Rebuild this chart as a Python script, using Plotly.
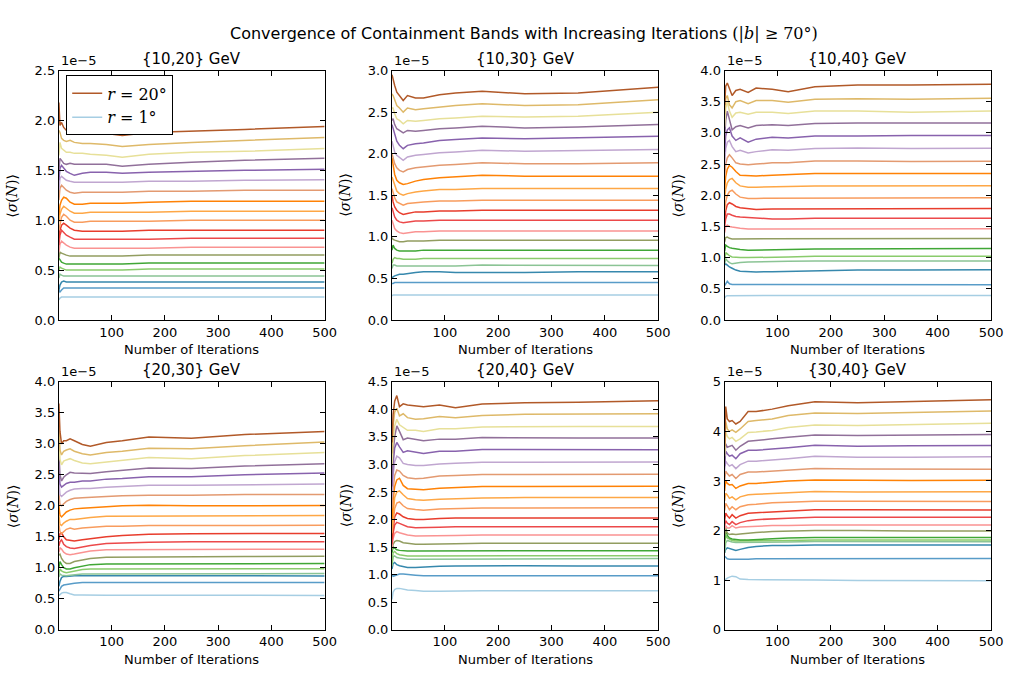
import plotly.graph_objects as go

# ---------------- data (values in units of 1e-5) ----------------
iterations = [1, 3, 6, 10, 15, 22, 30, 45, 60, 90, 120, 170, 250, 350, 500]
radii = list(range(20, 0, -1))  # rows below are ordered r=20 ... r=1

sig_10_20 = [
    [2.18, 1.95, 1.98, 1.93, 1.90, 1.92, 1.90, 1.89, 1.88, 1.87, 1.85, 1.88, 1.89, 1.91, 1.94],
    [1.90, 1.88, 1.82, 1.80, 1.79, 1.80, 1.78, 1.77, 1.77, 1.76, 1.74, 1.76, 1.78, 1.80, 1.83],
    [1.65, 1.78, 1.72, 1.70, 1.68, 1.68, 1.67, 1.67, 1.66, 1.65, 1.63, 1.66, 1.68, 1.69, 1.72],
    [1.50, 1.62, 1.60, 1.57, 1.56, 1.57, 1.56, 1.56, 1.56, 1.56, 1.54, 1.56, 1.58, 1.60, 1.62],
    [1.40, 1.52, 1.55, 1.52, 1.49, 1.47, 1.45, 1.47, 1.48, 1.48, 1.47, 1.48, 1.49, 1.50, 1.51],
    [1.30, 1.42, 1.44, 1.42, 1.40, 1.39, 1.38, 1.38, 1.38, 1.38, 1.38, 1.39, 1.39, 1.40, 1.405],
    [1.20, 1.32, 1.35, 1.33, 1.30, 1.28, 1.27, 1.28, 1.28, 1.28, 1.28, 1.29, 1.29, 1.30, 1.30],
    [1.05, 1.15, 1.20, 1.23, 1.22, 1.18, 1.16, 1.16, 1.17, 1.17, 1.17, 1.18, 1.19, 1.19, 1.19],
    [0.98, 1.06, 1.11, 1.14, 1.12, 1.09, 1.07, 1.07, 1.08, 1.08, 1.08, 1.08, 1.09, 1.09, 1.09],
    [0.90, 0.97, 1.03, 1.06, 1.04, 1.00, 0.98, 0.98, 0.99, 0.99, 0.99, 0.99, 1.00, 1.00, 1.00],
    [0.82, 0.90, 0.95, 0.97, 0.95, 0.92, 0.90, 0.89, 0.89, 0.89, 0.89, 0.90, 0.90, 0.90, 0.90],
    [0.75, 0.85, 0.90, 0.88, 0.85, 0.83, 0.81, 0.81, 0.81, 0.81, 0.81, 0.81, 0.82, 0.82, 0.82],
    [0.68, 0.76, 0.79, 0.77, 0.75, 0.73, 0.72, 0.72, 0.72, 0.72, 0.72, 0.72, 0.73, 0.73, 0.73],
    [0.62, 0.68, 0.67, 0.66, 0.65, 0.64, 0.64, 0.64, 0.64, 0.64, 0.64, 0.65, 0.65, 0.65, 0.65],
    [0.62, 0.60, 0.58, 0.57, 0.56, 0.56, 0.56, 0.56, 0.56, 0.56, 0.56, 0.57, 0.57, 0.57, 0.57],
    [0.50, 0.53, 0.52, 0.51, 0.50, 0.50, 0.50, 0.50, 0.50, 0.50, 0.50, 0.51, 0.51, 0.51, 0.51],
    [0.42, 0.46, 0.45, 0.44, 0.44, 0.44, 0.44, 0.44, 0.44, 0.44, 0.44, 0.44, 0.44, 0.44, 0.44],
    [0.30, 0.35, 0.38, 0.39, 0.38, 0.38, 0.38, 0.38, 0.38, 0.38, 0.38, 0.38, 0.38, 0.38, 0.38],
    [0.30, 0.28, 0.30, 0.32, 0.32, 0.32, 0.32, 0.32, 0.32, 0.32, 0.32, 0.32, 0.32, 0.32, 0.32],
    [0.20, 0.22, 0.23, 0.23, 0.23, 0.23, 0.23, 0.23, 0.23, 0.23, 0.23, 0.23, 0.23, 0.23, 0.23],
]

sig_10_30 = [
    [2.95, 2.88, 2.82, 2.74, 2.70, 2.64, 2.70, 2.67, 2.67, 2.71, 2.73, 2.75, 2.72, 2.73, 2.80],
    [2.72, 2.70, 2.65, 2.58, 2.55, 2.50, 2.55, 2.53, 2.54, 2.56, 2.58, 2.60, 2.58, 2.59, 2.65],
    [2.55, 2.55, 2.48, 2.42, 2.40, 2.36, 2.40, 2.39, 2.40, 2.42, 2.43, 2.45, 2.44, 2.45, 2.50],
    [2.40, 2.42, 2.35, 2.30, 2.28, 2.25, 2.28, 2.27, 2.28, 2.30, 2.31, 2.33, 2.31, 2.32, 2.35],
    [2.35, 2.30, 2.22, 2.15, 2.10, 2.06, 2.10, 2.12, 2.13, 2.16, 2.17, 2.19, 2.18, 2.19, 2.21],
    [2.15, 2.10, 2.02, 1.98, 1.95, 1.92, 1.96, 1.98, 1.99, 2.01, 2.02, 2.04, 2.03, 2.04, 2.05],
    [2.00, 1.95, 1.88, 1.83, 1.80, 1.78, 1.81, 1.83, 1.84, 1.86, 1.87, 1.89, 1.88, 1.88, 1.89],
    [1.95, 1.85, 1.75, 1.68, 1.65, 1.63, 1.64, 1.67, 1.69, 1.71, 1.72, 1.74, 1.73, 1.73, 1.73],
    [1.72, 1.68, 1.62, 1.55, 1.52, 1.50, 1.52, 1.54, 1.55, 1.57, 1.57, 1.58, 1.58, 1.58, 1.58],
    [1.58, 1.52, 1.47, 1.42, 1.40, 1.38, 1.40, 1.41, 1.42, 1.43, 1.43, 1.44, 1.44, 1.44, 1.44],
    [1.50, 1.42, 1.36, 1.32, 1.29, 1.27, 1.28, 1.30, 1.30, 1.31, 1.31, 1.32, 1.32, 1.32, 1.32],
    [1.35, 1.30, 1.24, 1.20, 1.18, 1.17, 1.18, 1.19, 1.19, 1.20, 1.20, 1.20, 1.20, 1.20, 1.20],
    [1.20, 1.15, 1.10, 1.07, 1.05, 1.04, 1.05, 1.06, 1.06, 1.07, 1.07, 1.07, 1.07, 1.07, 1.07],
    [0.99, 0.97, 0.96, 0.95, 0.94, 0.94, 0.95, 0.95, 0.95, 0.96, 0.96, 0.96, 0.96, 0.96, 0.96],
    [0.84, 0.90, 0.86, 0.84, 0.83, 0.83, 0.83, 0.83, 0.84, 0.84, 0.84, 0.84, 0.84, 0.84, 0.84],
    [0.68, 0.73, 0.75, 0.74, 0.74, 0.73, 0.73, 0.73, 0.74, 0.74, 0.74, 0.74, 0.74, 0.74, 0.74],
    [0.62, 0.66, 0.66, 0.65, 0.65, 0.65, 0.65, 0.65, 0.65, 0.65, 0.65, 0.66, 0.66, 0.66, 0.655],
    [0.50, 0.52, 0.53, 0.54, 0.55, 0.55, 0.56, 0.57, 0.58, 0.58, 0.57, 0.57, 0.57, 0.58, 0.58],
    [0.44, 0.44, 0.45, 0.45, 0.45, 0.45, 0.45, 0.45, 0.45, 0.45, 0.45, 0.45, 0.45, 0.45, 0.45],
    [0.29, 0.30, 0.30, 0.30, 0.30, 0.30, 0.30, 0.30, 0.30, 0.30, 0.30, 0.30, 0.30, 0.30, 0.30],
]

sig_10_40 = [
    [3.45, 3.75, 3.80, 3.70, 3.60, 3.68, 3.70, 3.65, 3.72, 3.70, 3.66, 3.74, 3.77, 3.77, 3.78],
    [3.30, 3.55, 3.60, 3.45, 3.40, 3.50, 3.52, 3.47, 3.52, 3.52, 3.49, 3.54, 3.55, 3.54, 3.555],
    [3.10, 3.40, 3.50, 3.35, 3.25, 3.32, 3.33, 3.30, 3.33, 3.33, 3.31, 3.35, 3.35, 3.33, 3.35],
    [2.90, 3.20, 3.35, 3.20, 3.05, 3.10, 3.12, 3.08, 3.12, 3.13, 3.12, 3.15, 3.16, 3.16, 3.16],
    [2.70, 2.95, 3.05, 3.08, 2.95, 2.88, 2.92, 2.85, 2.90, 2.93, 2.92, 2.95, 2.95, 2.96, 2.96],
    [2.50, 2.75, 2.85, 2.88, 2.78, 2.70, 2.72, 2.68, 2.70, 2.73, 2.72, 2.75, 2.76, 2.75, 2.755],
    [2.30, 2.50, 2.60, 2.65, 2.60, 2.52, 2.50, 2.49, 2.50, 2.52, 2.52, 2.55, 2.55, 2.54, 2.546],
    [2.10, 2.30, 2.42, 2.48, 2.45, 2.38, 2.32, 2.31, 2.31, 2.32, 2.33, 2.35, 2.35, 2.35, 2.35],
    [1.95, 2.10, 2.20, 2.25, 2.27, 2.20, 2.15, 2.13, 2.13, 2.14, 2.14, 2.15, 2.15, 2.15, 2.154],
    [1.75, 1.90, 2.00, 2.06, 2.08, 2.02, 1.97, 1.95, 1.95, 1.95, 1.95, 1.96, 1.96, 1.96, 1.96],
    [1.60, 1.75, 1.85, 1.88, 1.86, 1.82, 1.80, 1.78, 1.77, 1.78, 1.78, 1.79, 1.79, 1.79, 1.787],
    [1.50, 1.62, 1.70, 1.70, 1.68, 1.66, 1.65, 1.64, 1.63, 1.62, 1.62, 1.63, 1.63, 1.63, 1.63],
    [1.40, 1.50, 1.52, 1.50, 1.49, 1.48, 1.47, 1.46, 1.46, 1.46, 1.46, 1.46, 1.46, 1.46, 1.464],
    [1.25, 1.32, 1.33, 1.31, 1.30, 1.30, 1.30, 1.30, 1.30, 1.30, 1.30, 1.31, 1.31, 1.31, 1.307],
    [1.10, 1.20, 1.18, 1.16, 1.15, 1.14, 1.13, 1.12, 1.12, 1.13, 1.13, 1.14, 1.14, 1.14, 1.145],
    [0.95, 1.08, 1.06, 1.03, 1.01, 1.00, 1.00, 1.00, 1.00, 1.01, 1.01, 1.02, 1.02, 1.02, 1.02],
    [0.90, 0.98, 0.95, 0.92, 0.90, 0.91, 0.92, 0.93, 0.93, 0.94, 0.94, 0.945, 0.945, 0.945, 0.946],
    [0.88, 0.90, 0.88, 0.85, 0.83, 0.80, 0.78, 0.77, 0.77, 0.775, 0.78, 0.79, 0.80, 0.80, 0.805],
    [0.55, 0.58, 0.62, 0.58, 0.57, 0.57, 0.57, 0.565, 0.565, 0.565, 0.565, 0.565, 0.565, 0.565, 0.565],
    [0.35, 0.38, 0.39, 0.39, 0.39, 0.39, 0.39, 0.39, 0.39, 0.39, 0.39, 0.39, 0.39, 0.39, 0.392],
]

sig_20_30 = [
    [3.65, 3.20, 3.00, 3.05, 3.05, 3.08, 3.05, 2.99, 2.96, 3.02, 3.05, 3.11, 3.09, 3.15, 3.20],
    [3.30, 2.90, 2.82, 2.88, 2.90, 2.92, 2.88, 2.84, 2.82, 2.86, 2.88, 2.93, 2.92, 2.97, 3.03],
    [3.10, 2.75, 2.66, 2.72, 2.74, 2.76, 2.73, 2.69, 2.68, 2.71, 2.73, 2.78, 2.76, 2.81, 2.86],
    [2.85, 2.50, 2.40, 2.46, 2.50, 2.54, 2.53, 2.52, 2.52, 2.55, 2.57, 2.61, 2.60, 2.64, 2.68],
    [2.60, 2.35, 2.30, 2.33, 2.36, 2.38, 2.38, 2.40, 2.40, 2.43, 2.44, 2.47, 2.47, 2.50, 2.53],
    [2.40, 2.18, 2.15, 2.18, 2.22, 2.25, 2.27, 2.28, 2.28, 2.30, 2.31, 2.33, 2.33, 2.34, 2.35],
    [2.20, 2.02, 2.00, 2.03, 2.07, 2.10, 2.12, 2.13, 2.14, 2.15, 2.16, 2.17, 2.17, 2.18, 2.18],
    [2.00, 1.85, 1.82, 1.86, 1.90, 1.93, 1.95, 1.96, 1.97, 1.99, 2.00, 2.01, 2.00, 2.00, 2.005],
    [1.85, 1.70, 1.68, 1.72, 1.75, 1.78, 1.78, 1.80, 1.81, 1.83, 1.83, 1.84, 1.84, 1.84, 1.842],
    [1.70, 1.58, 1.55, 1.58, 1.62, 1.64, 1.62, 1.64, 1.65, 1.67, 1.67, 1.68, 1.68, 1.68, 1.684],
    [1.45, 1.55, 1.56, 1.50, 1.45, 1.44, 1.43, 1.45, 1.47, 1.50, 1.52, 1.54, 1.55, 1.55, 1.553],
    [1.35, 1.42, 1.45, 1.38, 1.34, 1.32, 1.31, 1.34, 1.36, 1.39, 1.40, 1.41, 1.42, 1.42, 1.421],
    [1.25, 1.32, 1.30, 1.25, 1.22, 1.21, 1.22, 1.25, 1.27, 1.29, 1.29, 1.30, 1.30, 1.30, 1.30],
    [1.20, 1.22, 1.15, 1.10, 1.07, 1.07, 1.10, 1.13, 1.15, 1.17, 1.17, 1.18, 1.18, 1.18, 1.184],
    [1.00, 1.10, 1.05, 1.00, 0.98, 0.98, 1.00, 1.03, 1.05, 1.06, 1.06, 1.07, 1.07, 1.07, 1.068],
    [0.90, 0.98, 0.95, 0.93, 0.92, 0.93, 0.95, 0.97, 0.98, 0.98, 0.98, 0.98, 0.98, 0.98, 0.984],
    [0.85, 0.90, 0.88, 0.87, 0.87, 0.88, 0.89, 0.90, 0.90, 0.90, 0.90, 0.905, 0.905, 0.905, 0.905],
    [0.70, 0.78, 0.84, 0.86, 0.86, 0.87, 0.87, 0.87, 0.87, 0.87, 0.87, 0.87, 0.87, 0.87, 0.868],
    [0.62, 0.66, 0.70, 0.72, 0.73, 0.74, 0.75, 0.76, 0.76, 0.76, 0.77, 0.77, 0.76, 0.76, 0.763],
    [0.55, 0.57, 0.59, 0.60, 0.60, 0.58, 0.56, 0.56, 0.555, 0.555, 0.555, 0.555, 0.555, 0.555, 0.553],
]

sig_20_40 = [
    [3.40, 3.90, 4.15, 4.25, 4.05, 4.10, 4.08, 4.06, 4.05, 4.08, 4.03, 4.10, 4.12, 4.13, 4.156],
    [3.20, 3.70, 3.95, 4.02, 3.88, 3.92, 3.85, 3.82, 3.83, 3.87, 3.85, 3.89, 3.91, 3.91, 3.92],
    [3.00, 3.45, 3.70, 3.82, 3.72, 3.68, 3.62, 3.62, 3.60, 3.65, 3.65, 3.68, 3.69, 3.69, 3.689],
    [2.80, 3.20, 3.50, 3.70, 3.60, 3.45, 3.48, 3.45, 3.43, 3.46, 3.46, 3.49, 3.48, 3.48, 3.48],
    [2.60, 3.00, 3.30, 3.40, 3.32, 3.22, 3.25, 3.22, 3.20, 3.24, 3.24, 3.27, 3.27, 3.27, 3.268],
    [2.40, 2.80, 3.05, 3.15, 3.12, 3.02, 3.00, 2.98, 2.98, 3.01, 3.02, 3.04, 3.04, 3.04, 3.043],
    [2.20, 2.55, 2.80, 2.90, 2.88, 2.80, 2.76, 2.74, 2.75, 2.79, 2.80, 2.82, 2.82, 2.82, 2.824],
    [2.00, 2.35, 2.60, 2.72, 2.75, 2.62, 2.56, 2.55, 2.54, 2.57, 2.58, 2.60, 2.60, 2.60, 2.605],
    [1.85, 2.15, 2.40, 2.50, 2.52, 2.45, 2.38, 2.36, 2.35, 2.37, 2.38, 2.39, 2.40, 2.40, 2.398],
    [1.75, 2.00, 2.20, 2.30, 2.32, 2.25, 2.20, 2.18, 2.17, 2.19, 2.20, 2.21, 2.21, 2.21, 2.214],
    [1.65, 1.85, 2.05, 2.12, 2.10, 2.05, 2.02, 2.00, 2.00, 2.02, 2.03, 2.03, 2.03, 2.03, 2.03],
    [1.55, 1.75, 1.90, 1.95, 1.93, 1.90, 1.87, 1.85, 1.85, 1.86, 1.87, 1.87, 1.87, 1.87, 1.871],
    [1.50, 1.65, 1.75, 1.78, 1.76, 1.74, 1.72, 1.70, 1.70, 1.71, 1.71, 1.72, 1.72, 1.72, 1.717],
    [1.45, 1.55, 1.60, 1.62, 1.61, 1.58, 1.57, 1.55, 1.55, 1.56, 1.56, 1.57, 1.57, 1.57, 1.569],
    [1.40, 1.50, 1.48, 1.45, 1.44, 1.43, 1.43, 1.43, 1.43, 1.44, 1.44, 1.44, 1.44, 1.43, 1.433],
    [1.20, 1.40, 1.42, 1.38, 1.36, 1.35, 1.34, 1.34, 1.34, 1.34, 1.345, 1.345, 1.345, 1.345, 1.344],
    [1.15, 1.32, 1.34, 1.31, 1.30, 1.29, 1.28, 1.28, 1.28, 1.29, 1.29, 1.29, 1.29, 1.29, 1.291],
    [1.10, 1.20, 1.22, 1.18, 1.16, 1.14, 1.13, 1.13, 1.14, 1.15, 1.155, 1.16, 1.16, 1.155, 1.155],
    [1.00, 0.97, 0.98, 1.00, 1.01, 1.01, 1.00, 0.99, 0.98, 0.98, 0.98, 0.98, 0.98, 0.98, 0.977],
    [0.55, 0.68, 0.73, 0.75, 0.75, 0.73, 0.72, 0.71, 0.70, 0.70, 0.705, 0.705, 0.705, 0.705, 0.705],
]

sig_30_40 = [
    [3.70, 4.50, 4.25, 4.20, 4.22, 4.15, 4.20, 4.40, 4.40, 4.45, 4.52, 4.60, 4.58, 4.61, 4.64],
    [3.60, 4.20, 4.05, 4.00, 4.03, 3.98, 4.05, 4.20, 4.22, 4.25, 4.32, 4.37, 4.36, 4.38, 4.41],
    [3.50, 4.00, 3.90, 3.85, 3.88, 3.80, 3.85, 3.98, 3.99, 4.02, 4.08, 4.13, 4.12, 4.14, 4.164],
    [3.40, 3.75, 3.68, 3.70, 3.72, 3.62, 3.70, 3.80, 3.82, 3.85, 3.88, 3.93, 3.92, 3.93, 3.94],
    [3.30, 3.60, 3.55, 3.50, 3.52, 3.45, 3.55, 3.62, 3.62, 3.64, 3.67, 3.72, 3.70, 3.71, 3.717],
    [3.20, 3.40, 3.35, 3.30, 3.33, 3.25, 3.33, 3.40, 3.40, 3.42, 3.45, 3.50, 3.48, 3.48, 3.487],
    [3.00, 3.20, 3.15, 3.10, 3.13, 3.05, 3.13, 3.18, 3.18, 3.20, 3.22, 3.25, 3.24, 3.24, 3.237],
    [2.80, 3.00, 2.95, 2.92, 2.93, 2.85, 2.90, 2.95, 2.95, 2.98, 3.00, 3.02, 3.01, 3.01, 3.013],
    [2.60, 2.75, 2.72, 2.65, 2.68, 2.62, 2.68, 2.72, 2.73, 2.75, 2.77, 2.79, 2.78, 2.78, 2.783],
    [2.40, 2.55, 2.50, 2.42, 2.48, 2.42, 2.48, 2.52, 2.53, 2.56, 2.57, 2.59, 2.59, 2.59, 2.586],
    [2.20, 2.35, 2.30, 2.25, 2.32, 2.25, 2.30, 2.35, 2.36, 2.38, 2.40, 2.42, 2.42, 2.42, 2.414],
    [2.10, 2.20, 2.15, 2.12, 2.18, 2.12, 2.16, 2.20, 2.22, 2.24, 2.25, 2.27, 2.27, 2.27, 2.27],
    [2.00, 2.10, 2.05, 2.05, 2.10, 2.05, 2.07, 2.08, 2.09, 2.10, 2.10, 2.11, 2.11, 2.11, 2.112],
    [1.90, 2.00, 1.95, 1.92, 1.93, 1.92, 1.93, 1.95, 1.96, 1.98, 1.99, 2.00, 2.00, 1.99, 1.993],
    [1.80, 2.05, 1.90, 1.85, 1.83, 1.82, 1.81, 1.81, 1.82, 1.83, 1.85, 1.86, 1.86, 1.86, 1.862],
    [1.70, 1.90, 1.85, 1.82, 1.80, 1.79, 1.79, 1.79, 1.79, 1.80, 1.80, 1.81, 1.81, 1.81, 1.809],
    [1.55, 1.75, 1.80, 1.78, 1.77, 1.76, 1.76, 1.76, 1.76, 1.77, 1.77, 1.78, 1.78, 1.78, 1.776],
    [1.55, 1.62, 1.65, 1.64, 1.63, 1.60, 1.62, 1.66, 1.68, 1.70, 1.70, 1.71, 1.71, 1.71, 1.71],
    [1.48, 1.45, 1.43, 1.42, 1.42, 1.41, 1.41, 1.42, 1.43, 1.43, 1.43, 1.43, 1.43, 1.43, 1.434],
    [1.00, 1.02, 1.04, 1.06, 1.08, 1.07, 1.02, 1.01, 1.01, 1.00, 1.00, 1.00, 0.99, 0.99, 0.987],
]

panel_titles = ["{10,20} GeV", "{10,30} GeV", "{10,40} GeV",
                "{20,30} GeV", "{20,40} GeV", "{30,40} GeV"]
panel_data = [sig_10_20, sig_10_30, sig_10_40, sig_20_30, sig_20_40, sig_30_40]
y_max = [2.5, 3.0, 4.0, 4.0, 4.5, 5.0]
y_step = [0.5, 0.5, 0.5, 0.5, 0.5, 1.0]
x_ticks = [100, 200, 300, 400, 500]

# ---------------- styling ----------------
W, H = 1015, 681
paired = ["#a6cee3", "#1f78b4", "#b2df8a", "#33a02c", "#fb9a99", "#e31a1c",
          "#fdbf6f", "#ff7f00", "#cab2d6", "#6a3d9a", "#ffff99", "#b15928"]


def hex2rgb(h):
    return tuple(int(h[i:i + 2], 16) for i in (1, 3, 5))


def paired_interp(t):
    # continuous (linearly interpolated) Paired colormap, t in [0,1]
    pos = t * (len(paired) - 1)
    k = min(int(pos), len(paired) - 2)
    f = pos - k
    a, b = hex2rgb(paired[k]), hex2rgb(paired[k + 1])
    c = [round(a[j] + (b[j] - a[j]) * f) for j in range(3)]
    return "rgb(%d,%d,%d)" % tuple(c)


colors = {r: paired_interp((r - 1) / 19) for r in range(1, 21)}

col_px = [(59.6, 328.5), (396.7, 666.0), (733.3, 1003.0)]
row_px = [(65.0, 320.0), (383.3, 636.7)]

FONT = "DejaVu Sans, Verdana, sans-serif"
SERIF = "DejaVu Serif, Liberation Serif, serif"

fig = go.Figure()
layout = dict(
    width=W, height=H, margin=dict(l=0, r=0, t=0, b=0),
    paper_bgcolor="white", plot_bgcolor="white",
    font=dict(family=FONT, size=13, color="black"),
    showlegend=True,
    legend=dict(x=67 / W, y=1 - 70 / H, xanchor="left", yanchor="top",
                bordercolor="black", borderwidth=1, bgcolor="white",
                font=dict(family=SERIF, size=16, color="black"),
                tracegroupgap=4, itemwidth=30),
)
annotations = []

for p in range(6):
    row, col = divmod(p, 3)
    x0, x1 = col_px[col]
    yt, yb = row_px[row]
    ax = "" if p == 0 else str(p + 1)
    xd = [x0 / W, x1 / W]
    yd = [1 - yb / H, 1 - yt / H]
    yticks = []
    v = 0.0
    while v <= y_max[p] + 1e-9:
        yticks.append(round(v, 2))
        v += y_step[p]
    layout["xaxis" + ax] = dict(
        domain=xd, range=[1, 500], anchor="y" + ax, tickvals=x_ticks,
        ticks="inside", ticklen=5, tickcolor="black", showline=True,
        linecolor="black", linewidth=1, mirror="allticks", showgrid=False,
        zeroline=False, tickfont=dict(size=13, family=FONT))
    layout["yaxis" + ax] = dict(
        domain=yd, range=[0, y_max[p]], anchor="x" + ax, tickvals=yticks,
        tickformat=".1f" if y_step[p] < 1 else "d",
        ticks="inside", ticklen=5, tickcolor="black", showline=True,
        linecolor="black", linewidth=1, mirror="allticks", showgrid=False,
        zeroline=False, tickfont=dict(size=13, family=FONT))

    rows = panel_data[p]
    for k in range(len(rows) - 1, -1, -1):
        r = radii[k]
        show = (p == 0 and r in (20, 1))
        fig.add_trace(go.Scatter(
            x=iterations, y=rows[k], mode="lines",
            line=dict(color=colors[r], width=1.5),
            name="<i>r</i> = %d°" % r, showlegend=show,
            legendrank=1 if r == 20 else 2,
            xaxis="x" + ax, yaxis="y" + ax, hoverinfo="skip"))

    # subplot title
    annotations.append(dict(text=panel_titles[p], x=(xd[0] + xd[1]) / 2, y=yd[1],
                            xref="paper", yref="paper", xanchor="center",
                            yanchor="bottom", yshift=1, showarrow=False,
                            font=dict(size=15, family=FONT)))
    # offset text
    annotations.append(dict(text="1e\u22125", x=xd[0], y=yd[1], xref="paper",
                            yref="paper", xanchor="left", yanchor="bottom",
                            yshift=1, showarrow=False,
                            font=dict(size=13, family=FONT)))
    # y label
    annotations.append(dict(text="\u27e8<i>σ</i>(<i>N</i>)\u27e9",
                            x=(x0 - 47) / W, y=(yd[0] + yd[1]) / 2,
                            xref="paper", yref="paper", xanchor="center",
                            yanchor="middle", textangle=-90, showarrow=False,
                            font=dict(size=14, family=SERIF)))
    # x label
    annotations.append(dict(text="Number of Iterations", x=(xd[0] + xd[1]) / 2,
                            y=1 - (yb + 30) / H, xref="paper", yref="paper",
                            xanchor="center", yanchor="middle", showarrow=False,
                            font=dict(size=13, family=FONT)))

annotations.append(dict(
    text="Convergence of Containment Bands with Increasing Iterations "
         "<span style='font-family:DejaVu Serif, serif'>(|<i>b</i>| \u2265 70°)</span>",
    x=530 / W, y=1 - 27 / H, xref="paper", yref="paper", xanchor="center",
    yanchor="middle", showarrow=False, font=dict(size=16, family=FONT)))

layout["annotations"] = annotations
fig.update_layout(**layout)
fig.write_html("out.html",
               config={"displayModeBar": False, "staticPlot": True},
               post_script="document.body.style.margin='0';"
                           "document.body.style.overflow='hidden';")
